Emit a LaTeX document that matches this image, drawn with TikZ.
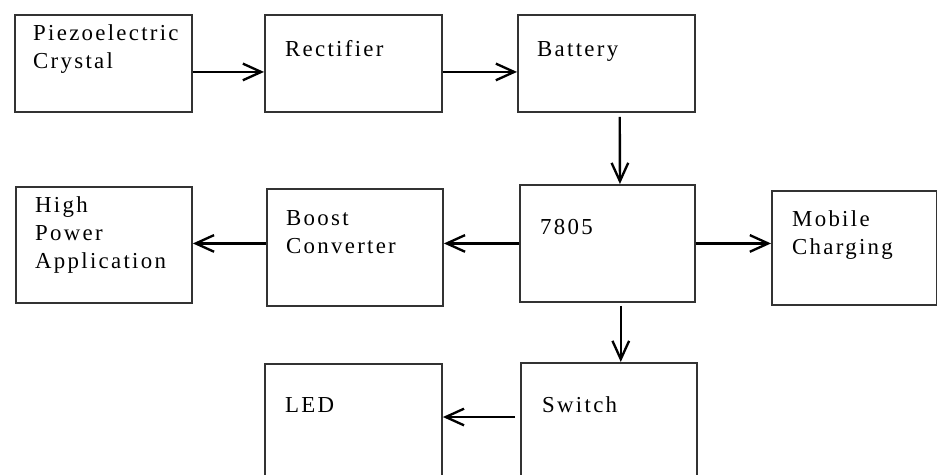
\documentclass[tikz,border=0pt]{standalone}
\usepackage{fontspec}
\newfontfamily\blkfont{Liberation Serif}[LetterSpace=10]
\usetikzlibrary{arrows.meta,positioning,calc}

\begin{document}
\begin{tikzpicture}[
  x=0.03cm,y=-0.03cm,
  block/.style={draw=black!80,line width=1.6pt,rectangle,anchor=north west,inner sep=0pt},
  lbl/.style={anchor=base west,inner sep=0pt,align=left,
    font=\blkfont\fontsize{19.5pt}{23.8pt}\selectfont},
  arrow/.style={-{Straight Barb[length=5.5mm,width=5mm]},draw=black,line width=2pt}
]
  \useasboundingbox (0,0) rectangle (937,474);
  \clip (0,0) rectangle (937,474);
  % blocks
  \node[block,minimum width=5.31cm,minimum height=2.91cm] (pre) at (14,14) {};
  \node[block,minimum width=5.31cm,minimum height=2.91cm] (rect) at (264,14) {};
  \node[block,minimum width=5.31cm,minimum height=2.91cm] (bat) at (517,14) {};
  \node[block,minimum width=5.25cm,minimum height=3.51cm] (reg) at (519,184) {};
  \node[block,minimum width=4.95cm,minimum height=3.42cm] (mob) at (771,190) {};
  \node[block,minimum width=5.28cm,minimum height=3.51cm] (boost) at (266,188) {};
  \node[block,minimum width=5.28cm,minimum height=3.48cm] (hpa) at (15,186) {};
  \node[block,minimum width=5.28cm,minimum height=4.2cm] (sw) at (520,362) {};
  \node[block,minimum width=5.31cm,minimum height=4.2cm] (led) at (264,363) {};
  % labels (base = last line)
  \node[lbl] (pre-t) at ($(pre.north west)+(19,54)$) {Piezoelectric\\Crystal};
  \node[lbl] (rect-t) at ($(rect.north west)+(21,42)$) {Rectifier};
  \node[lbl] (bat-t) at ($(bat.north west)+(20,42)$) {Battery};
  \node[lbl] (reg-t) at ($(reg.north west)+(21,50)$) {7805};
  \node[lbl] (mob-t) at ($(mob.north west)+(21,64)$) {Mobile\\Charging};
  \node[lbl] (boost-t) at ($(boost.north west)+(20,65)$) {Boost\\Converter};
  \node[lbl] (hpa-t) at ($(hpa.north west)+(20,82)$) {High\\Power\\Application};
  \node[lbl] (led-t) at ($(led.north west)+(21,49)$) {LED};
  \node[lbl] (sw-t) at ($(sw.north west)+(22,50)$) {Switch};
  % connectors
  \draw[arrow] ([yshift=-0.255cm]pre.east) -- ([yshift=-0.255cm]rect.west);
  \draw[arrow] ([yshift=-0.255cm]rect.east) -- ([yshift=-0.255cm]bat.west);
  \draw[arrow] ([xshift=0.4cm,yshift=-0.12cm]bat.south) -- ([xshift=0.375cm]reg.north);
  \draw[arrow] (reg.west) -- (reg.west -| boost.east);
  \draw[arrow] (boost.west |- reg.west) -- (hpa.east |- reg.west);
  \draw[arrow] (reg.east) -- (reg.east -| mob.west);
  \draw[arrow] ([xshift=0.4cm,yshift=-0.09cm]reg.south) -- ([xshift=0.4cm]reg.south |- sw.north);
  \coordinate (swout) at ([xshift=-0.15cm,yshift=-1.65cm]sw.north west);
  \draw[arrow] (swout) -- (swout -| led.east);
\end{tikzpicture}
\end{document}
